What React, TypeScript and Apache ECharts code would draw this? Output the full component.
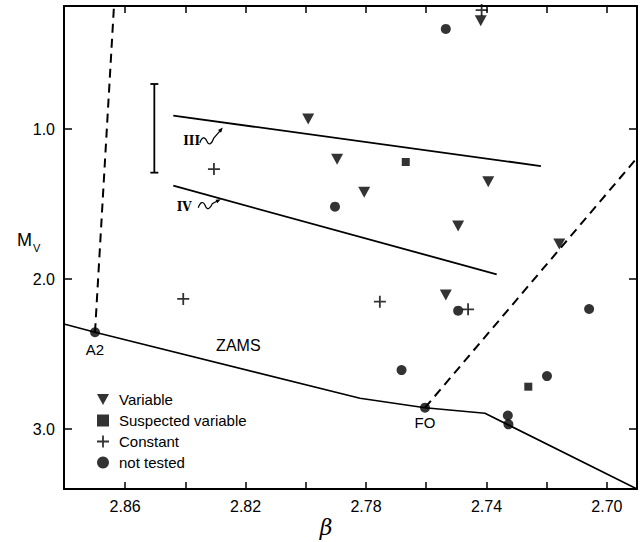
import React, { useEffect, useRef } from "react";
import * as echarts from "echarts";

// ---- axis ranges & ticks ----
const X_MIN = 2.69;
const X_MAX = 2.8803;
const Y_MIN = 0.18;
const Y_MAX = 3.4;
const xTickValues = [2.7, 2.72, 2.74, 2.76, 2.78, 2.8, 2.82, 2.84, 2.86];
const xLabelValues = [2.7, 2.74, 2.78, 2.82, 2.86];
const yTickValues = [1.0, 2.0, 3.0];

// ---- data (beta, Mv) ----
const variable = [
  [2.7419, 0.278],
  [2.7992, 0.933],
  [2.7896, 1.202],
  [2.7806, 1.422],
  [2.7394, 1.351],
  [2.7494, 1.647],
  [2.7535, 2.107],
  [2.7158, 1.767],
];
const suspected = [
  [2.7668, 1.22],
  [2.7261, 2.718],
];
const constant = [
  [2.8305, 1.267],
  [2.8407, 2.133],
  [2.7754, 2.151],
  [2.7461, 2.202],
  [2.7416, 0.207],
];
const notTested = [
  [2.7535, 0.333],
  [2.7903, 1.518],
  [2.7494, 2.211],
  [2.7682, 2.607],
  [2.7199, 2.647],
  [2.7059, 2.2],
  [2.7329, 2.91],
  [2.7327, 2.969],
];
const zamsPointNames = ["A2", "FO"];
const zamsPointValues = [
  [2.87, 2.355],
  [2.7604, 2.858],
];
const zamsLine = [
  [2.8803, 2.3],
  [2.87, 2.355],
  [2.782, 2.795],
  [2.7604, 2.858],
  [2.7405, 2.895],
  [2.69, 3.4],
];
const lineIII = [
  [2.844, 0.911],
  [2.7219, 1.247],
];
const lineIV = [
  [2.844, 1.378],
  [2.7366, 1.969],
];
const dashA2 = [
  [2.87, 2.355],
  [2.8637, 0.18],
];
const dashFO = [
  [2.7604, 2.858],
  [2.69, 1.193],
];
const errorBar = [
  [2.8503, 0.7],
  [2.8503, 1.291],
];
const annotationTexts = ["ZAMS", "III", "IV"];
const annotationPos = [
  [2.8224, 2.44],
  [2.8379, 1.078],
  [2.8404, 1.518],
];
const squiggleAnchors = [
  [2.8352, 1.087],
  [2.8357, 1.518],
];
const legendNames = ["Variable", "Suspected variable", "Constant", "not tested"];

const FONT = "'Liberation Sans', Arial, sans-serif";
const TRI = "path://M0,0 L12,0 L6,11 Z";
const PLUS =
  "path://M5.1,0 H6.9 V5.1 H12 V6.9 H6.9 V12 H5.1 V6.9 H0 V5.1 H5.1 Z";

echarts.graphic.registerShape(
  "squiggle3",
  echarts.graphic.extendPath(
    "M0,1 C2,-5 5,-6 7,-1 C9,4 12,2 14,-4 L20.5,-11.5",
    {}
  ) as any
);
echarts.graphic.registerShape(
  "squiggle4",
  echarts.graphic.extendPath(
    "M0,1 C2,-5 5,-6 7,-1 C9,4 12,2 14,-3 L19,-5.8",
    {}
  ) as any
);

const lineSeries = (data: number[][], width = 1.6, dashed = false) => ({
  type: "line",
  data,
  symbol: "none",
  showSymbol: false,
  silent: true,
  z: 1,
  lineStyle: {
    color: "#000",
    width,
    type: dashed ? [9, 6] : "solid",
  },
});

const xAxisBase = (position: "bottom" | "top", showLabels: boolean) => ({
  type: "value",
  min: X_MIN,
  max: X_MAX,
  inverse: true,
  position,
  axisLine: { show: true, onZero: false, lineStyle: { color: "#000", width: 2 } },
  axisTick: {
    show: true,
    inside: true,
    length: 7,
    customValues: xTickValues,
    lineStyle: { color: "#000", width: 1.5 },
  },
  axisLabel: {
    show: showLabels,
    customValues: xLabelValues,
    formatter: (v: number) => v.toFixed(2),
    fontSize: 16,
    color: "#000",
    fontFamily: FONT,
    margin: 9,
  },
  splitLine: { show: false },
});

const yAxisBase = (position: "left" | "right", showLabels: boolean) => ({
  type: "value",
  min: Y_MIN,
  max: Y_MAX,
  inverse: true,
  position,
  axisLine: { show: true, onZero: false, lineStyle: { color: "#000", width: 2 } },
  axisTick: {
    show: true,
    inside: true,
    length: 8,
    customValues: yTickValues,
    lineStyle: { color: "#000", width: 1.5 },
  },
  axisLabel: {
    show: showLabels,
    customValues: yTickValues,
    formatter: (v: number) => v.toFixed(1),
    fontSize: 16,
    color: "#000",
    fontFamily: FONT,
    margin: 9,
  },
  splitLine: { show: false },
});

export default function App() {
  const ref = useRef<HTMLDivElement>(null);
  useEffect(() => {
    document.body.style.margin = "0";
    const chart = echarts.init(ref.current!, null, { renderer: "svg" });
    const labelBase = {
      color: "#000",
      opacity: 1,
      textBorderWidth: 0,
      fontFamily: FONT,
    };
    const option: any = {
      animation: false,
      backgroundColor: "#fff",
      grid: {
        left: 64,
        top: 6,
        width: 573,
        height: 483,
        containLabel: false,
        outerBoundsMode: "none",
      },
      xAxis: [xAxisBase("bottom", true), xAxisBase("top", false)],
      yAxis: [yAxisBase("left", true), yAxisBase("right", false)],
      legend: {
        show: true,
        orient: "vertical",
        left: 97,
        top: 392,
        padding: 0,
        itemWidth: 12,
        itemHeight: 12,
        itemGap: 6,
        selectedMode: false,
        data: legendNames,
        textStyle: {
          fontSize: 15,
          color: "#000",
          fontFamily: FONT,
          lineHeight: 14,
          padding: [0, 0, 0, 5],
        },
      },
      series: [
        lineSeries(zamsLine, 1.6),
        lineSeries(lineIII, 1.8),
        lineSeries(lineIV, 1.8),
        lineSeries(dashA2, 2, true),
        lineSeries(dashFO, 2, true),
        {
          type: "line",
          data: errorBar,
          symbol: "rect",
          symbolSize: [8, 1.8],
          showSymbol: true,
          silent: true,
          itemStyle: { color: "#000" },
          lineStyle: { color: "#000", width: 1.8 },
        },
        {
          name: legendNames[0],
          type: "scatter",
          data: variable,
          symbol: TRI,
          symbolSize: [12, 11],
          itemStyle: { color: "#000" },
          z: 3,
        },
        {
          name: legendNames[1],
          type: "scatter",
          data: suspected,
          symbol: "rect",
          symbolSize: 8,
          itemStyle: { color: "#000" },
          z: 3,
        },
        {
          name: legendNames[2],
          type: "scatter",
          data: constant,
          symbol: PLUS,
          symbolSize: 12,
          itemStyle: { color: "#000" },
          z: 3,
        },
        {
          name: legendNames[3],
          type: "scatter",
          data: notTested,
          symbol: "circle",
          symbolSize: 10,
          itemStyle: { color: "#000" },
          z: 3,
        },
        {
          type: "scatter",
          data: zamsPointNames.map((n, i) => ({
            name: n,
            value: zamsPointValues[i],
            label: { ...labelBase, fontSize: 15, distance: i === 0 ? 5 : 2 },
          })),
          symbol: "circle",
          symbolSize: 10,
          itemStyle: { color: "#000" },
          z: 3,
          label: {
            ...labelBase,
            show: true,
            position: "bottom",
            formatter: "{b}",
            fontSize: 15,
          },
        },
        {
          type: "scatter",
          silent: true,
          z: 4,
          data: annotationTexts.map((t, i) => ({
            name: t,
            value: annotationPos[i],
            label:
              i === 0
                ? { ...labelBase, fontSize: 16 }
                : {
                    ...labelBase,
                    fontSize: 12,
                    fontFamily: "'DejaVu Serif', serif",
                    fontWeight: "bold",
                  },
          })),
          symbolSize: 0.1,
          itemStyle: { color: "#fff", opacity: 1 },
          label: {
            ...labelBase,
            show: true,
            position: "inside",
            formatter: "{b}",
          },
        },
      ],
    };
    chart.setOption(option);

    const toPx = (p: number[]) =>
      chart.convertToPixel({ xAxisIndex: 0, yAxisIndex: 0 } as any, p) as number[];
    const a3 = toPx(squiggleAnchors[0]);
    const a4 = toPx(squiggleAnchors[1]);
    chart.setOption({
      graphic: [
        {
          type: "squiggle3",
          x: a3[0],
          y: a3[1],
          style: { fill: "none", stroke: "#000", lineWidth: 1.2 },
        },
        {
          type: "polygon",
          x: a3[0],
          y: a3[1],
          shape: { points: [[23, -14.5], [18.2, -12], [21.3, -9.4]] },
          style: { fill: "#000" },
        },
        {
          type: "squiggle4",
          x: a4[0],
          y: a4[1],
          style: { fill: "none", stroke: "#000", lineWidth: 1.2 },
        },
        {
          type: "polygon",
          x: a4[0],
          y: a4[1],
          shape: { points: [[22.5, -7.5], [17.2, -6.9], [19.0, -3.4]] },
          style: { fill: "#000" },
        },
        {
          type: "text",
          x: 17,
          y: 231,
          style: { text: "M", fontSize: 18, fontFamily: FONT, fill: "#000" },
        },
        {
          type: "text",
          x: 33,
          y: 242,
          style: { text: "V", fontSize: 11, fontFamily: FONT, fill: "#000" },
        },
        {
          type: "text",
          x: 326,
          y: 527,
          style: {
            text: "β",
            fontSize: 22,
            fontStyle: "italic",
            fontFamily: "'DejaVu Serif', serif",
            fill: "#000",
            align: "center",
            verticalAlign: "middle",
          },
        },
      ],
    });
    return () => chart.dispose();
  }, []);
  return <div ref={ref} style={{ width: 643, height: 542, background: "#fff" }} />;
}
